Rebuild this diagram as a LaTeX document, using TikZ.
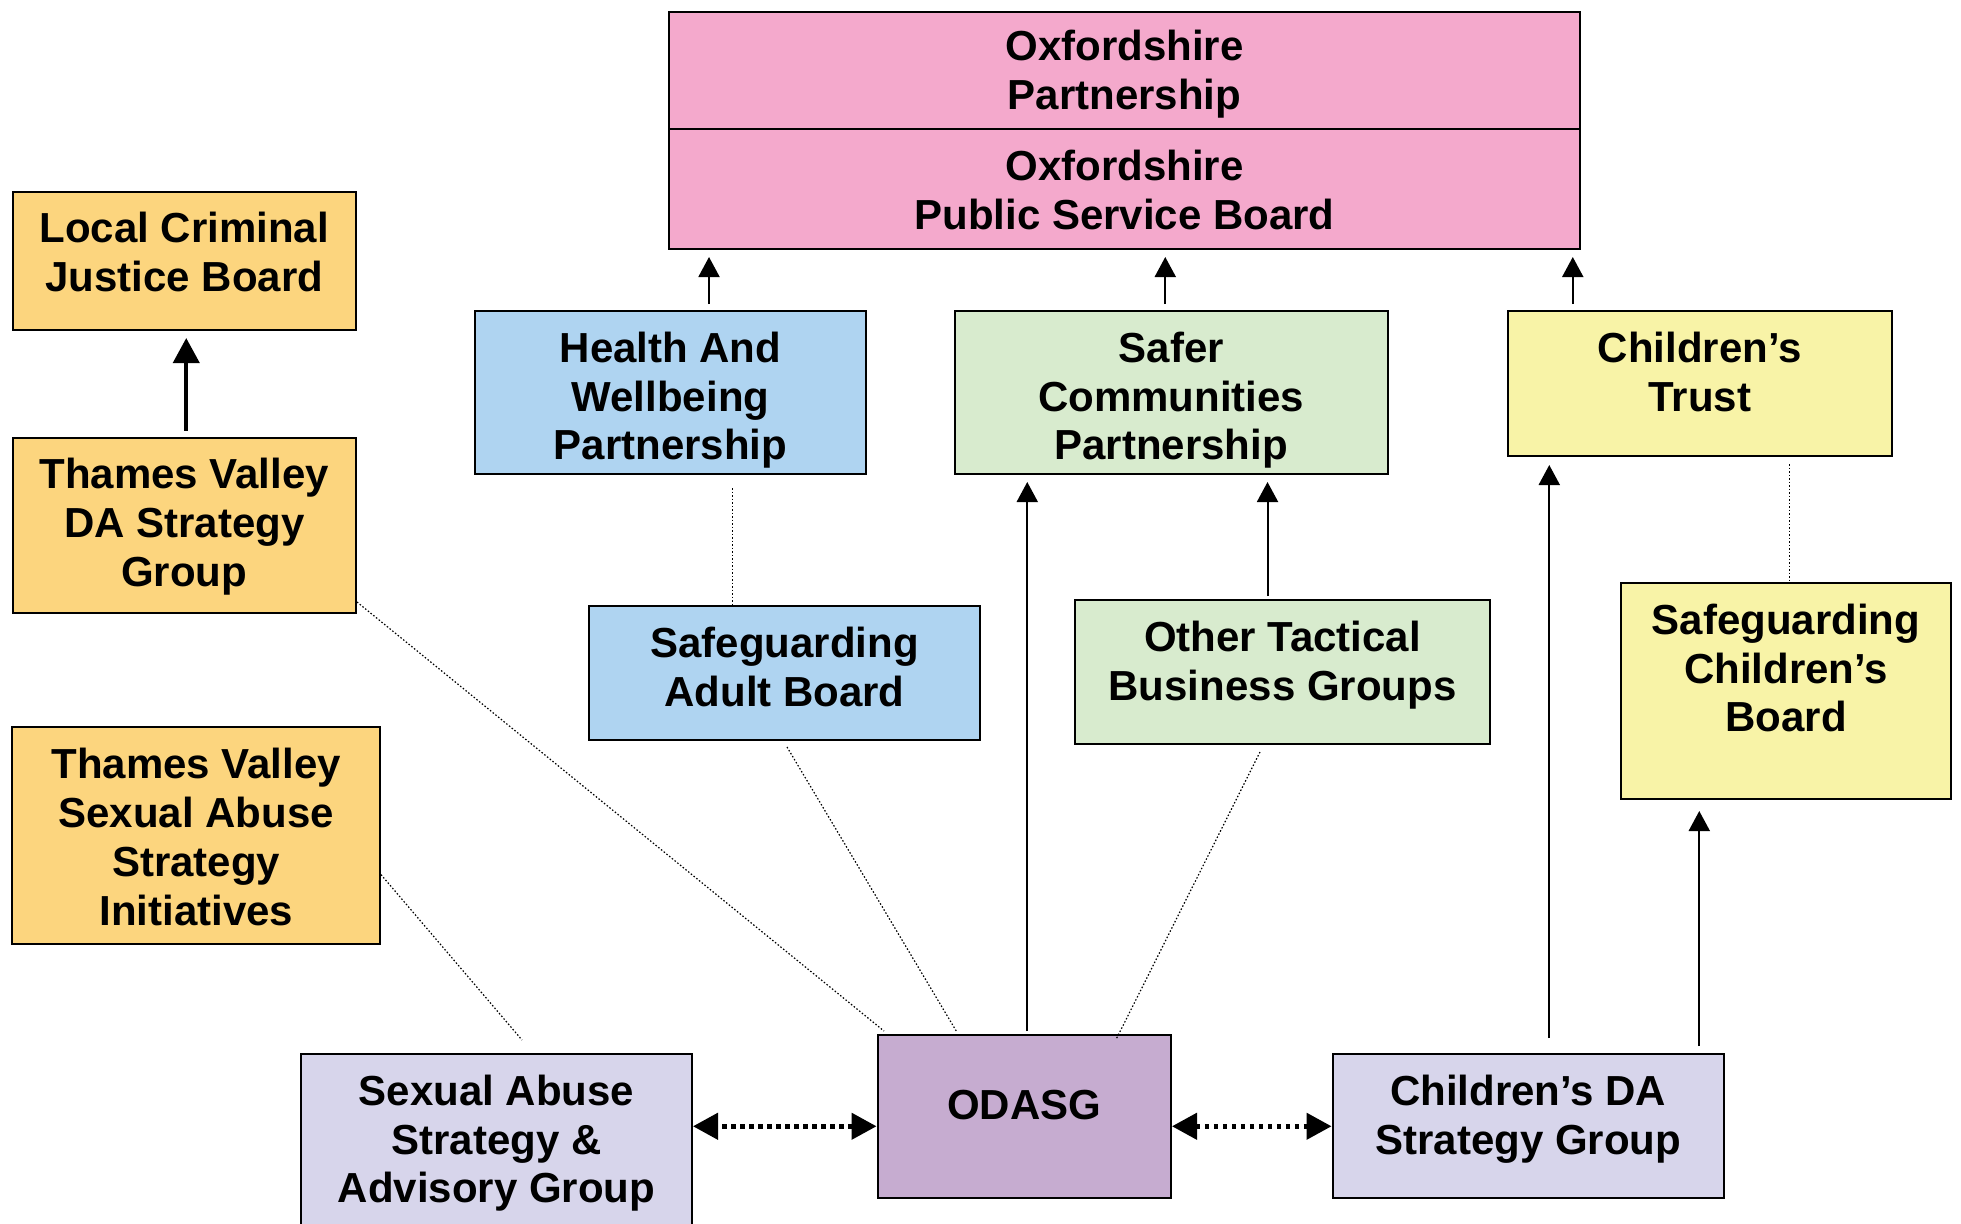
\documentclass[tikz,border=0pt]{standalone}
\usepackage{fontspec}
\setmainfont{Liberation Sans}
\usetikzlibrary{arrows.meta,positioning}

\definecolor{pinkbox}{HTML}{F4A9CC}
\definecolor{orangebox}{HTML}{FCD57E}
\definecolor{bluebox}{HTML}{AFD4F1}
\definecolor{greenbox}{HTML}{D8EBCE}
\definecolor{yellowbox}{HTML}{F8F3A7}
\definecolor{lilacbox}{HTML}{D7D5EB}
\definecolor{purplebox}{HTML}{C6ACD0}

\begin{document}
\begin{tikzpicture}[
  box/.style={draw, line width=0.2mm, inner sep=0pt},
  txt/.style={font=\fontsize{11.95}{13.9}\selectfont\bfseries, align=center, inner sep=0pt},
  uparr/.style={-{Triangle[length=2mm,width=2.1mm]}, line width=0.2mm},
  bigarr/.style={-{Triangle[length=2.5mm,width=2.6mm]}, line width=0.4mm},
  link/.style={line width=0.12mm, dash pattern=on 0.15mm off 0.2mm},
  twoway/.style={{Triangle[length=2.5mm,width=2.6mm]}-{Triangle[length=2.5mm,width=2.6mm]},
    line width=0.45mm, dash pattern=on 0.45mm off 0.45mm}
]
\useasboundingbox (0,0) rectangle (19.61,-12.23);
\clip (0,0) rectangle (19.61,-12.23);

% top board
\node[box, fill=pinkbox, minimum width=9.11cm, minimum height=1.17cm] (op) at (11.245,-0.705) {};
\node[box, fill=pinkbox, minimum width=9.11cm, minimum height=1.2cm] (psb) at (11.245,-1.89) {};
\node[txt, below=1.8mm of op.north] (op-t) {Oxfordshire\\Partnership};
\node[txt, below=2.1mm of psb.north] (psb-t) {Oxfordshire\\Public Service Board};

% thames valley column
\node[box, fill=orangebox, minimum width=3.435cm, minimum height=1.385cm] (lcjb) at (1.8425,-2.6075) {};
\node[txt, below=2.1mm of lcjb.north] (lcjb-t) {Local Criminal\\Justice Board};
\node[box, fill=orangebox, minimum width=3.435cm, minimum height=1.755cm] (tvda) at (1.8425,-5.2525) {};
\node[txt, below=2.1mm of tvda.north] (tvda-t) {Thames Valley\\DA Strategy\\Group};
\node[box, fill=orangebox, minimum width=3.675cm, minimum height=2.1625cm] (tvsa) at (1.9625,-8.356) {};
\node[txt, below=2.1mm of tvsa.north] (tvsa-t) {Thames Valley\\Sexual Abuse\\Strategy\\Initiatives};

% partnerships
\node[box, fill=bluebox, minimum width=3.91cm, minimum height=1.63cm] (hwb) at (6.705,-3.925) {};
\node[txt, below=2.1mm of hwb.north] (hwb-t) {Health And\\Wellbeing\\Partnership};
\node[box, fill=greenbox, minimum width=4.325cm, minimum height=1.63cm] (scp) at (11.7125,-3.925) {};
\node[txt, below=2.1mm of scp.north] (scp-t) {Safer\\Communities\\Partnership};
\node[box, fill=yellowbox, minimum width=3.845cm, minimum height=1.45cm] (ct) at (16.9975,-3.835) {};
\node[txt, below=2.1mm of ct.north] (ct-t) {Children’s\\Trust};

% boards and groups
\node[box, fill=bluebox, minimum width=3.91cm, minimum height=1.34cm] (sab) at (7.845,-6.73) {};
\node[txt, below=2.1mm of sab.north] (sab-t) {Safeguarding\\Adult Board};
\node[box, fill=greenbox, minimum width=4.15cm, minimum height=1.44cm] (otbg) at (12.825,-6.72) {};
\node[txt, below=2.1mm of otbg.north] (otbg-t) {Other Tactical\\Business Groups};
\node[box, fill=yellowbox, minimum width=3.3cm, minimum height=2.16cm] (scb) at (17.86,-6.91) {};
\node[txt, below=2.1mm of scb.north] (scb-t) {Safeguarding\\Children’s\\Board};

% bottom row
\node[box, fill=lilacbox, minimum width=3.91cm, minimum height=1.86cm] (sasag) at (4.965,-11.47) {};
\node[txt, below=2.1mm of sasag.north] (sasag-t) {Sexual Abuse\\Strategy \&\\Advisory Group};
\node[box, fill=purplebox, minimum width=2.935cm, minimum height=1.625cm] (odasg) at (10.2425,-11.1625) {};
\node[txt, below=5.5mm of odasg.north] (odasg-t) {ODASG};
\node[box, fill=lilacbox, minimum width=3.915cm, minimum height=1.435cm] (cdasg) at (15.2825,-11.2575) {};
\node[txt, below=2.1mm of cdasg.north] (cdasg-t) {Children’s DA\\Strategy Group};

% reporting lines
\draw[uparr, shorten <=0.6mm, shorten >=0.7mm] ([xshift=3.85mm]hwb.north) coordinate (a1) -- (a1 |- psb.south);
\draw[uparr, shorten <=0.6mm, shorten >=0.7mm] ([xshift=-0.6mm]scp.north) coordinate (a2) -- (a2 |- psb.south);
\draw[uparr, shorten <=0.6mm, shorten >=0.7mm] ([xshift=-12.7mm]ct.north) coordinate (a3) -- (a3 |- psb.south);
\draw[bigarr, shorten <=0.6mm, shorten >=0.7mm] ([xshift=0.2mm]tvda.north) coordinate (a4) -- (a4 |- lcjb.south);
\draw[uparr, shorten <=0.3mm, shorten >=0.7mm] ([xshift=0.3mm]odasg.north) coordinate (a5) -- (a5 |- scp.south);
\draw[uparr, shorten <=0.3mm, shorten >=0.7mm] ([xshift=-1.5mm]otbg.north) coordinate (a6) -- (a6 |- scp.south);
\draw[uparr, shorten <=1.5mm, shorten >=0.8mm] ([xshift=2.1mm]cdasg.north) coordinate (a7) -- (a7 |- ct.south);
\draw[uparr, shorten <=0.7mm, shorten >=1.1mm] ([xshift=17.1mm]cdasg.north) coordinate (a8) -- (a8 |- scb.south);

% dotted links
\draw[link, shorten <=1.3mm] ([xshift=6.2mm]hwb.south) coordinate (b1) -- (b1 |- sab.north);
\draw[link, shorten <=0.7mm] ([xshift=9mm]ct.south) coordinate (b2) -- (b2 |- scb.north);
\draw[link] ([yshift=1.2mm]tvda.south east) -- ([shift={(0.75mm,0.3mm)}]odasg.north west);
\draw[link] ([yshift=-3.9mm]tvsa.east) -- ([shift={(2.55mm,1.3mm)}]sasag.north);
\draw[link] ([shift={(0.25mm,-0.6mm)}]sab.south) -- ([shift={(-6.8mm,0.3mm)}]odasg.north);
\draw[link] ([shift={(-2.25mm,-0.7mm)}]otbg.south) -- ([shift={(9.2mm,-0.5mm)}]odasg.north);

% two-way links
\draw[twoway] ([yshift=-1mm]odasg.west) coordinate (c1) -- (c1 -| sasag.east);
\draw[twoway] ([yshift=-1mm]odasg.east) coordinate (c2) -- (c2 -| cdasg.west);
\end{tikzpicture}
\end{document}
